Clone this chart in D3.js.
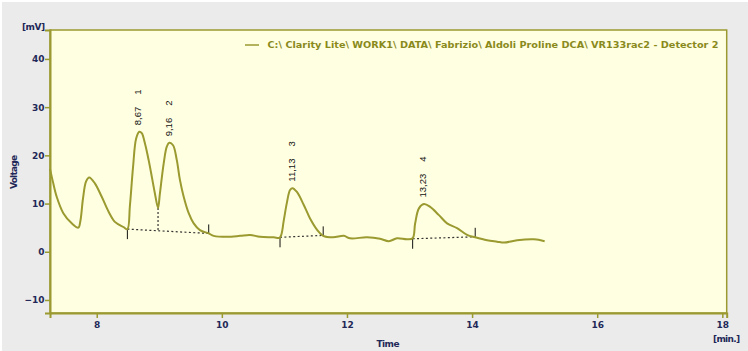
<!DOCTYPE html>
<html>
<head>
<meta charset="utf-8">
<script src="https://cdn.jsdelivr.net/npm/d3@7"></script>
<style>
  html, body { margin: 0; padding: 0; background: #ffffff; }
  svg { display: block; }
</style>
</head>
<body>
<script>
// ---- data ----
const times = [7.253, 7.30, 7.36, 7.466, 7.60, 7.706, 7.74, 7.78, 7.83, 7.88, 7.97, 8.08, 8.19, 8.29, 8.43, 8.49,
  8.53, 8.58, 8.63, 8.68, 8.72, 8.77, 8.83, 8.88, 8.93, 8.98, 9.01, 9.07, 9.12, 9.16, 9.22, 9.28, 9.33, 9.39, 9.47,
  9.55, 9.65, 9.79, 9.87, 10.08, 10.29, 10.45, 10.61, 10.83, 10.92, 10.95, 10.99, 11.04, 11.09, 11.13, 11.20, 11.31,
  11.41, 11.52, 11.62, 11.78, 11.95, 12.05, 12.32, 12.53, 12.67, 12.80, 12.96, 13.05, 13.09, 13.15, 13.23, 13.33,
  13.47, 13.60, 13.76, 13.92, 14.05, 14.24, 14.40, 14.51, 14.72, 14.99, 15.16];
const volts = [17.2, 14.5, 11.4, 8.0, 5.9, 5.0, 6.5, 11.0, 14.6, 15.4, 14.2, 11.4, 8.3, 6.2, 5.1, 4.7,
  9.5, 17.5, 23.5, 24.9, 24.6, 22.5, 19.0, 15.6, 12.1, 9.1, 12.1, 18.3, 21.8, 22.6, 22.1, 19.0, 14.9, 11.4, 8.0,
  5.9, 4.5, 3.8, 3.3, 3.1, 3.3, 3.5, 3.1, 3.0, 2.9, 3.5, 6.5, 10.2, 12.8, 13.2, 12.4, 9.7,
  6.9, 4.6, 3.3, 3.0, 3.3, 2.8, 3.0, 2.7, 2.2, 2.8, 2.6, 2.8, 5.9, 9.0, 9.9, 9.3,
  7.6, 5.9, 4.9, 3.5, 3.0, 2.4, 2.1, 1.9, 2.4, 2.6, 2.2];

const peakTimes = [8.67, 9.16, 11.13, 13.23];
const peakTops = [24.9, 22.6, 13.2, 9.9];
const peakRtLabels = ["8,67", "9,16", "11,13", "13,23"];
const peakNumbers = ["1", "2", "3", "4"];

const baseStartT = [8.49, 10.93, 13.05];
const baseStartV = [4.7, 3.0, 2.7];
const baseEndT = [9.79, 11.62, 14.05];
const baseEndV = [3.8, 3.4, 3.1];
const dropT = [8.98];
const dropTopV = [9.1];

const xTicks = [8, 10, 12, 14, 16, 18];
const yTicks = [-10, 0, 10, 20, 30, 40];
const legendText = "C:\\ Clarity Lite\\ WORK1\\ DATA\\ Fabrizio\\ Aldoli Proline DCA\\ VR133rac2 - Detector 2";

// ---- layout ----
const W = 748, H = 351;
const L = 50, R = 726.7, T = 30, B = 313;
const olive = "#9a9a30";
const navy = "#1f2858";

const svg = d3.select("body").append("svg").attr("width", W).attr("height", H);
svg.append("rect").attr("x", 2).attr("y", 2).attr("width", W - 2).attr("height", H - 2).attr("fill", "#ebebeb");

const x = d3.scaleLinear().domain([7.253, 18.07]).range([L, R]);
const y = d3.scaleLinear().domain([-12.7, 46.0]).range([B, T]);

svg.append("rect").attr("x", L).attr("y", T).attr("width", R - L).attr("height", B - T)
  .attr("fill", "#ffffe1").attr("stroke", olive).attr("stroke-width", 1.5);

// axes
const gy = svg.append("g").attr("transform", `translate(${L},0)`)
  .call(d3.axisLeft(y).tickValues(yTicks).tickSize(5).tickPadding(0.5));
const gx = svg.append("g").attr("transform", `translate(0,${B})`)
  .call(d3.axisBottom(x).tickValues(xTicks).tickSize(5).tickPadding(4));
[gy, gx].forEach(g => {
  g.select(".domain").attr("stroke", olive).attr("stroke-width", 2);
  g.selectAll(".tick line").attr("stroke", olive).attr("stroke-width", 1.5);
  g.selectAll(".tick text").attr("fill", navy).attr("font-family", "DejaVu Sans")
    .attr("font-weight", "bold").attr("font-size", 9);
});

const labelStyle = s => s.attr("fill", navy).attr("font-family", "DejaVu Sans").attr("font-weight", "bold").attr("font-size", 9);
svg.append("text").attr("x", 22).attr("y", 30).text("[mV]").call(labelStyle).attr("textLength", 23);
svg.append("text").attr("transform", "translate(17,172) rotate(-90)").attr("text-anchor", "middle")
  .text("Voltage").call(labelStyle).attr("textLength", 34);
svg.append("text").attr("x", 388).attr("y", 347).attr("text-anchor", "middle").text("Time").call(labelStyle).attr("textLength", 23);
svg.append("text").attr("x", 726.5).attr("y", 341.5).attr("text-anchor", "middle").text("[min.]").call(labelStyle).attr("textLength", 27);

// legend
svg.append("line").attr("x1", 245).attr("x2", 259).attr("y1", 45).attr("y2", 45).attr("stroke", olive).attr("stroke-width", 1.5);
svg.append("text").attr("x", 267.5).attr("y", 47.5).text(legendText)
  .attr("fill", "#8a8a1c").attr("font-family", "DejaVu Sans").attr("font-weight", "bold").attr("font-size", 9.5)
  .attr("textLength", 451).attr("lengthAdjust", "spacingAndGlyphs");

// baselines
const bl = svg.append("g");
baseStartT.forEach((t0, i) => {
  const x0 = x(t0), y0 = y(baseStartV[i]), x1 = x(baseEndT[i]), y1 = y(baseEndV[i]);
  bl.append("line").attr("x1", x0).attr("y1", y0).attr("x2", x1).attr("y2", y1)
    .attr("stroke", "#333").attr("stroke-width", 1.2).attr("stroke-dasharray", "2,2.4");
  bl.append("line").attr("x1", x0).attr("x2", x0).attr("y1", y0).attr("y2", y0 + 10).attr("stroke", "#111").attr("stroke-width", 1);
  bl.append("line").attr("x1", x1).attr("x2", x1).attr("y1", y1).attr("y2", y1 - 9).attr("stroke", "#111").attr("stroke-width", 1);
});
dropT.forEach((t, i) => {
  const bv = baseStartV[0] + (baseEndV[0] - baseStartV[0]) * (t - baseStartT[0]) / (baseEndT[0] - baseStartT[0]);
  bl.append("line").attr("x1", x(t)).attr("x2", x(t)).attr("y1", y(dropTopV[i])).attr("y2", y(bv))
    .attr("stroke", "#333").attr("stroke-width", 1.2).attr("stroke-dasharray", "2,2");
});

// curve
const pts = times.map((t, i) => [t, volts[i]]);
svg.append("path").datum(pts)
  .attr("d", d3.line().x(d => x(d[0])).y(d => y(d[1])).curve(d3.curveCatmullRom.alpha(0.5)))
  .attr("fill", "none").attr("stroke", olive).attr("stroke-width", 2);

// peak labels
peakTimes.forEach((t, i) => {
  const px = x(t) + 2.5, py = y(peakTops[i]) - 6.5;
  const tx = svg.append("text").attr("transform", `translate(${px},${py}) rotate(-90)`)
    .attr("font-family", "Liberation Sans").attr("font-size", 9.5).attr("fill", "#111");
  tx.append("tspan").text(peakRtLabels[i]);
  tx.append("tspan").attr("dx", 12).text(peakNumbers[i]);
});
</script>
</body>
</html>
